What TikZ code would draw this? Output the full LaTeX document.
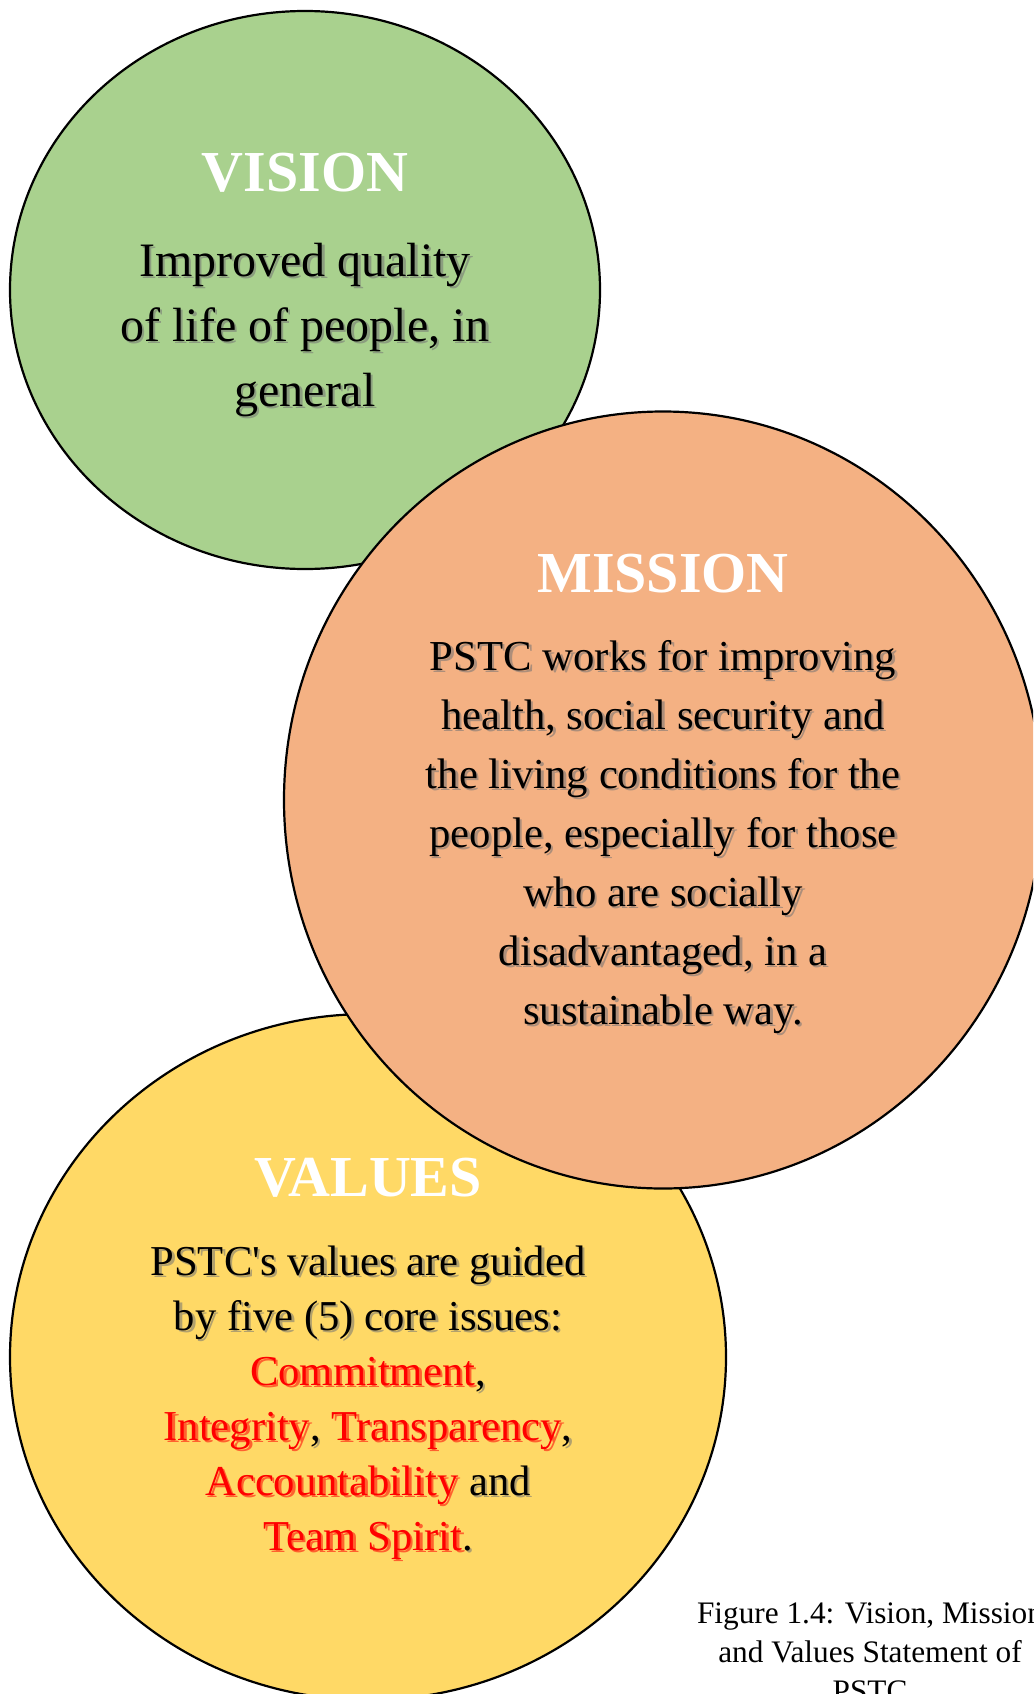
\documentclass[tikz,border=0pt]{standalone}
\usepackage{fontspec}
\setmainfont{Liberation Serif}[BoldFont={Liberation Serif Bold}]
\usetikzlibrary{shapes.geometric}

\definecolor{visiongreen}{HTML}{A9D18E}
\definecolor{missionorange}{HTML}{F4B183}
\definecolor{valuesyellow}{HTML}{FFD966}
\definecolor{corered}{HTML}{FF0000}

% the five core issues are printed in red
\newcommand{\core}[1]{\textcolor{corered}{#1}}

\newcommand{\visiontext}{Improved quality\\of life of people, in\\general}
\newcommand{\missiontext}{PSTC works for improving\\health, social security and\\the living conditions for the\\people, especially for those\\who are socially\\disadvantaged, in a\\sustainable way.}
\newcommand{\valuestext}{PSTC\textquotesingle s values are guided\\by five (5) core issues:\\\core{Commitment},\\\core{Integrity}, \core{Transparency},\\\core{Accountability} and\\\core{Team Spirit}.}

\begin{document}
\begin{tikzpicture}[x=1pt, y=-1pt,
  disc/.style={ellipse, draw=black, line width=2.2pt, inner sep=0pt},
  heading/.style={anchor=base, inner sep=0pt, text=white, font=\fontsize{58}{70}\selectfont\bfseries},
  body/.style={anchor=base, align=center, inner sep=0pt},
  shade/.style={text=black!55, text opacity=0.55, xshift=2.5pt, yshift=-2.5pt}]
\useasboundingbox (0,0) rectangle (1033,1694);
\clip (0,0) rectangle (1033,1694);

% vision (texts sit on the baseline of their last line)
\node[disc, fill=visiongreen, minimum width=590pt, minimum height=558pt] (vision) at (305,290) {};
\node[heading] (visiontitle) at (305,191) {VISION};
\node[body, shade, font=\fontsize{48}{65}\selectfont] (visionshade) at (305,406) {\visiontext};
\node[body, font=\fontsize{48}{65}\selectfont] (visionbody) at (305,406) {\visiontext};

% values
\node[disc, fill=valuesyellow, minimum width=716pt, minimum height=686pt] (values) at (368,1357) {};
\node[heading] (valuestitle) at (368,1196) {VALUES};
\node[body, shade, font=\fontsize{42.6}{55}\selectfont] (valuesshade) at (368,1550) {\colorlet{corered}{black}\valuestext};
\node[body, font=\fontsize{42.6}{55}\selectfont] (valuesbody) at (368,1550) {\valuestext};

% mission
\node[disc, fill=missionorange, minimum width=758pt, minimum height=777pt] (mission) at (663,800) {};
\node[heading] (missiontitle) at (663,592) {MISSION};
\node[body, shade, font=\fontsize{42.7}{59}\selectfont] (missionshade) at (663,1024) {\missiontext};
\node[body, font=\fontsize{42.7}{59}\selectfont] (missionbody) at (663,1024) {\missiontext};

% caption
\node[body, font=\fontsize{31.3}{39}\selectfont] (caption) at (870,1701) {Figure 1.4: Vision, Mission\\and Values Statement of\\PSTC};
\end{tikzpicture}
\end{document}
